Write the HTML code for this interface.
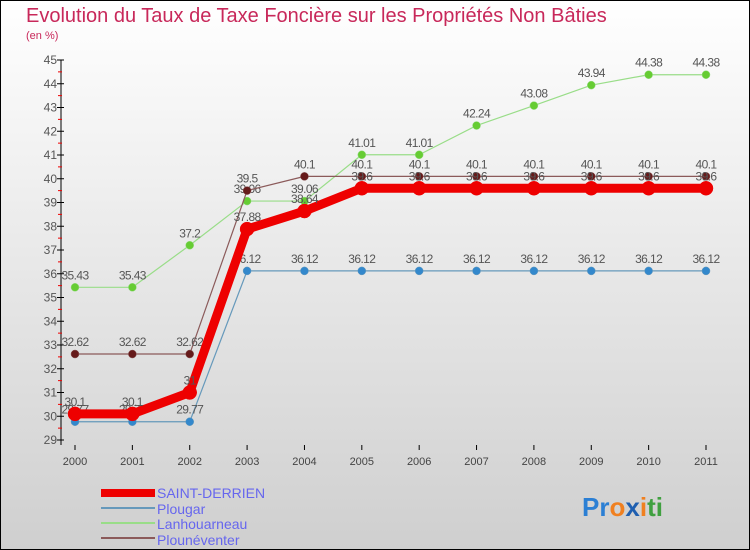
<!DOCTYPE html>
<html><head><meta charset="utf-8"><style>
body{margin:0}
#c{width:750px;height:550px;position:relative;overflow:hidden;font-family:"Liberation Sans","DejaVu Sans",sans-serif}
</style></head><body>
<div id="c">
<svg id="s" width="750" height="550" xmlns="http://www.w3.org/2000/svg">
<defs><linearGradient id="bg" x1="0" y1="0" x2="0" y2="1"><stop offset="0" stop-color="#ffffff"/><stop offset="1" stop-color="#cfcfcf"/></linearGradient></defs>
<rect x="0.5" y="0.5" width="749" height="549" fill="url(#bg)" stroke="#000"/>
<text x="26" y="22" font-size="20" fill="#c8285a">Evolution du Taux de Taxe Foncière sur les Propriétés Non Bâties</text>
<text x="26" y="39" font-size="11" fill="#c8285a">(en %)</text>
<g id="axes"></g><g id="series"></g>
<g>
<rect x="101" y="489" width="54" height="8" fill="#e00"/>
<text x="157" y="498" font-size="14" fill="#6666ee">SAINT-DERRIEN</text>
<line x1="101" y1="508" x2="155" y2="508" stroke="#6699bb" stroke-width="2"/>
<text x="157" y="514" font-size="14" fill="#6666ee">Plougar</text>
<line x1="101" y1="523" x2="155" y2="523" stroke="#99dd88" stroke-width="2"/>
<text x="157" y="529" font-size="14" fill="#6666ee">Lanhouarneau</text>
<line x1="101" y1="538" x2="155" y2="538" stroke="#8b5a5a" stroke-width="2"/>
<text x="157" y="545" font-size="14" fill="#6666ee">Plounéventer</text>
</g>
<text x="582" y="516" font-size="26" font-weight="bold"><tspan fill="#2b7fd4">Pr</tspan><tspan fill="#f08020">o</tspan><tspan fill="#1f5fb0">x</tspan><tspan fill="#f08020">i</tspan><tspan fill="#40a040">ti</tspan></text>
</svg>
</div>
<script>
const years=["2000","2001","2002","2003","2004","2005","2006","2007","2008","2009","2010","2011"];
const yTicks=[29,30,31,32,33,34,35,36,37,38,39,40,41,42,43,44,45];
const saintDerrien=[30.1,30.1,31,37.88,38.64,39.6,39.6,39.6,39.6,39.6,39.6,39.6];
const plougar=[29.77,29.77,29.77,36.12,36.12,36.12,36.12,36.12,36.12,36.12,36.12,36.12];
const lanhouarneau=[35.43,35.43,37.2,39.06,39.06,41.01,41.01,42.24,43.08,43.94,44.38,44.38];
const plouneventer=[32.62,32.62,32.62,39.5,40.1,40.1,40.1,40.1,40.1,40.1,40.1,40.1];
const NS="http://www.w3.org/2000/svg";
const X=i=>75+i*(706-75)/11;
const Y=v=>440-(v-29)*(380/16);
function mk(t,a,p){const e=document.createElementNS(NS,t);for(const k in a)e.setAttribute(k,a[k]);p.appendChild(e);return e;}
const ax=document.getElementById('axes');
const yl=mk('line',{x1:61,y1:60,x2:61,y2:445,stroke:'#000'},ax);


yTicks.forEach(v=>{
  mk('line',{x1:57,y1:Y(v),x2:64,y2:Y(v),stroke:'#000'},ax);
  if(v<45)mk('line',{x1:58,y1:Y(v+0.5),x2:62,y2:Y(v+0.5),stroke:'#e00'},ax);
  const t=mk('text',{x:57,y:Y(v)+4,'font-size':12,fill:'#555','text-anchor':'end'},ax);
  t.textContent=v;
  
  
});
years.forEach((y,i)=>{
  mk('line',{x1:X(i),y1:445,x2:X(i),y2:450,stroke:'#000'},ax);
  const t=mk('text',{x:X(i),y:465,'font-size':11,fill:'#444','text-anchor':'middle'},ax);
  t.textContent=y;
  
  
});
const sg=document.getElementById('series');
function draw(vals,name,color,lw,r,fill){
  const g=mk('g',{},sg);
  
  
  mk('polyline',{points:vals.map((v,i)=>X(i)+','+Y(v)).join(' '),fill:'none',stroke:color,'stroke-width':lw,'stroke-linejoin':'round'},g);
  vals.forEach((v,i)=>{
    const c=mk('circle',{cx:X(i),cy:Y(v),r:r,fill:fill,stroke:color,'stroke-width':0.5},g);
    
    
    const t=mk('text',{x:X(i),y:Y(v)-8,'font-size':12,fill:'#555','text-anchor':'middle','letter-spacing':'-0.6'},g);
    t.textContent=v;
    
    
  });
}
draw(plougar,'plougar','#6699bb',1.2,4,'#3388cc');
draw(lanhouarneau,'lanhouarneau','#99dd88',1.2,4,'#66cc33');
draw(plouneventer,'plouneventer','#8b5a5a',1.2,4,'#661a1a');
draw(saintDerrien,'saint-derrien','#ee0000',9,7,'#ee0000');
</script>
</body></html>
